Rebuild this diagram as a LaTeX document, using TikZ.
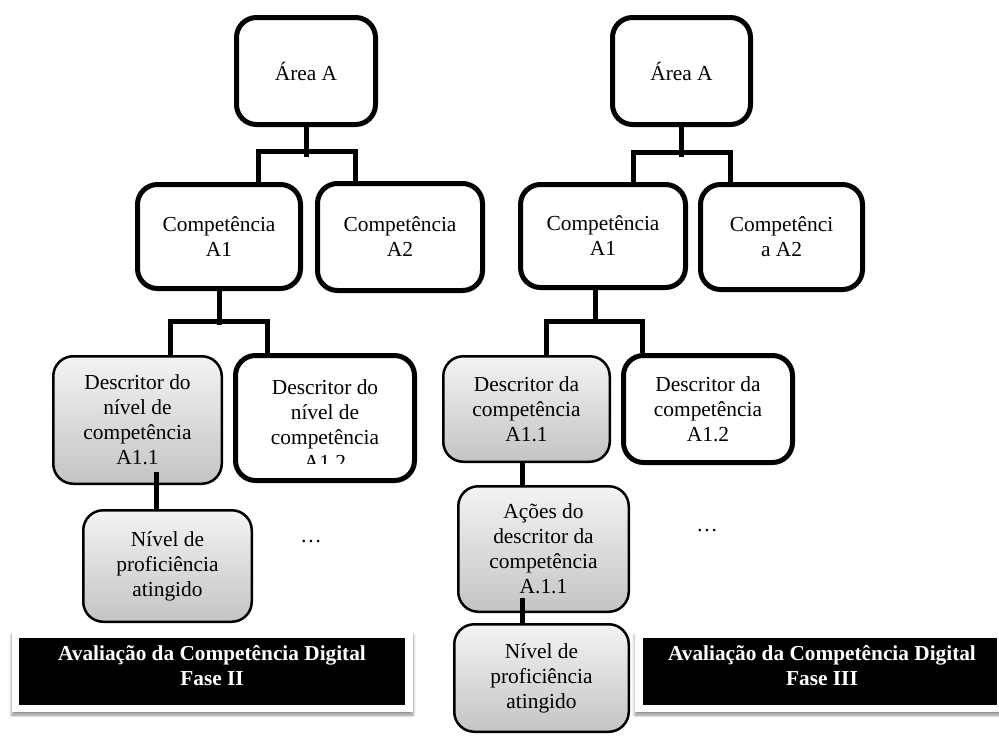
\documentclass[tikz,border=0pt]{standalone}
\usepackage{fontspec}
\setmainfont{Liberation Serif}
\usetikzlibrary{calc,shadows.blur}

\definecolor{grayTop}{RGB}{243,243,243}
\definecolor{grayBot}{RGB}{196,196,196}

\tikzset{
  lbl/.style={font=\fontsize{21.4}{25}\selectfont, align=center},
  wbox/.style={draw, line width=5pt, rounded corners=20pt, fill=white, lbl, inner sep=0pt},
  gbox/.style={draw, line width=2.5pt, rounded corners=20pt, top color=grayTop, bottom color=grayBot, lbl, inner sep=0pt},
  conn/.style={line width=5pt, line join=miter},
  card/.style={fill=white, draw=none, inner sep=0pt,
    blur shadow={shadow xshift=0pt, shadow yshift=-3pt, shadow blur radius=3pt, shadow opacity=45}},
  banner/.style={fill=black, inner sep=0pt},
  bannertext/.style={text=white, font=\bfseries\fontsize{21.3}{25}\selectfont, align=center},
  dots/.style={font=\fontsize{21.4}{25}\selectfont, anchor=base},
}

\begin{document}
\begin{tikzpicture}[x=1pt,y=-1pt]
\useasboundingbox (0,0) rectangle (999,736);

% ---------------- Fase II tree ----------------
\node[wbox, minimum width=139, minimum height=107] (areaL) at (306,71) {Área A};
\node[wbox, minimum width=163, minimum height=104] (compL1) at (219,236.5) {Competência\\A1};
\node[wbox, minimum width=165, minimum height=107] (compL2) at (400,237) {Competência\\A2};
\node[gbox, minimum width=168.5, minimum height=127.5] (descL1) at (137.5,420) {Descritor do\\nível de\\competência\\A1.1};
\node[wbox, minimum width=179, minimum height=125] (descL2) at (325,418) {};
\begin{scope}
  \clip ($(descL2.north west)+(3,3)$) rectangle ($(descL2.south east)+(-3,-20)$);
  \node[lbl] (descL2txt) at (325,425) {Descritor do\\nível de\\competência\\A1.2};
\end{scope}
\node[gbox, minimum width=168.5, minimum height=111.5] (nivL) at (167.5,566) {Nível de\\proficiência\\atingido};
\node[dots] (dotsL) at (311,542) {…};

% connectors
\draw[conn] (areaL.south) -- ($(areaL.south)+(0,30)$);
\draw[conn] ($(compL1.north)+(39,0)$) |- ($(compL2.north)+(-45,-30)$) -- ($(compL2.north)+(-45,0)$);
\draw[conn] (compL1.south) -- ($(compL1.south)+(0,34)$);
\draw[conn] ($(descL1.north)+(32.5,0)$) |- ($(descL2.north)+(-58,-32)$) -- ($(descL2.north)+(-58,0)$);
\draw[conn] ($(descL1.south)+(18.5,-13)$) -- ($(nivL.north)+(-11.5,0)$);

% banner
\node[card, minimum width=401, minimum height=80] (cardL) at (212.5,672) {};
\node[banner, minimum width=386, minimum height=67] (banL) at (212,671.5) {};
\node[bannertext] (banLtxt) at (212,666) {Avaliação da Competência Digital\\Fase II};

% ---------------- Fase III tree ----------------
\node[wbox, minimum width=138, minimum height=107] (areaR) at (681.5,71) {Área A};
\node[wbox, minimum width=165, minimum height=103] (compR1) at (603,236) {Competência\\A1};
\node[wbox, minimum width=162, minimum height=105] (compR2) at (781.5,237) {Competênci\\a A2};
\node[gbox, minimum width=166.5, minimum height=105.5] (descR1) at (526.5,409) {Descritor da\\competência\\A1.1};
\node[wbox, minimum width=169, minimum height=107] (descR2) at (708,409) {Descritor da\\competência\\A1.2};
\node[gbox, minimum width=170.5, minimum height=125.5] (acoes) at (543.5,549) {Ações do\\descritor da\\competência\\A.1.1};
\node[gbox, minimum width=174.5, minimum height=107.5] (nivR) at (541.5,678) {Nível de\\proficiência\\atingido};
\node[dots] (dotsR) at (707,531) {…};

% connectors
\draw[conn] (areaR.south) -- ($(areaR.south)+(0,30)$);
\draw[conn] ($(compR1.north)+(30,0)$) |- ($(compR2.north)+(-51.5,-30)$) -- ($(compR2.north)+(-51.5,0)$);
\draw[conn] ($(compR1.south)+(-8,0)$) -- ($(compR1.south)+(-8,34)$);
\draw[conn] ($(descR1.north)+(19.5,0)$) |- ($(descR2.north)+(-66,-32)$) -- ($(descR2.north)+(-66,0)$);
\draw[conn] ($(descR1.south)+(-4.5,0)$) -- ($(acoes.north)+(-21.5,0)$);
\draw[conn] ($(acoes.south)+(-21.5,-15)$) -- ($(nivR.north)+(-19.5,0)$);

% banner
\node[card, minimum width=368, minimum height=80] (cardR) at (819,672) {};
\node[banner, minimum width=354, minimum height=67] (banR) at (820,671.5) {};
\node[bannertext] (banRtxt) at (822,666) {Avaliação da Competência Digital\\Fase III};
\end{tikzpicture}
\end{document}
